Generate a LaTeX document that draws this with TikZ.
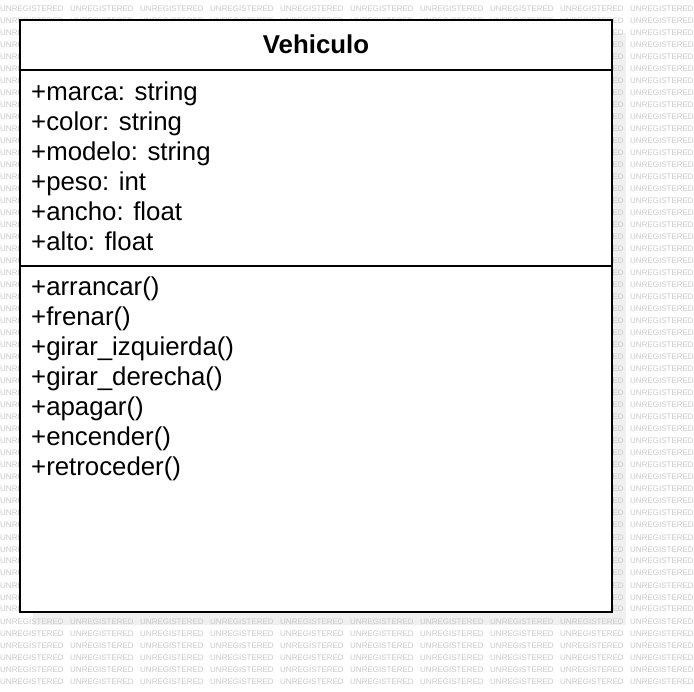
\documentclass[tikz,border=0pt]{standalone}
\usepackage{fontspec}
\setmainfont{Liberation Sans}
\newif\ifwmhidden
\newif\ifwmcut
\begin{document}
\begin{tikzpicture}[x=1pt,y=-1pt,
  wm/.style={anchor=base west,inner sep=0pt,text=black!21,font=\fontsize{8}{8}\selectfont},
  member/.style={anchor=base west,inner sep=0pt,font=\fontsize{25.8}{25.8}\selectfont},
  title/.style={anchor=base,inner sep=0pt,font=\fontsize{25.8}{25.8}\selectfont\bfseries},
  frame/.style={draw=black,line width=2pt,fill=white}]
\useasboundingbox[fill=white] (0,0) rectangle (694,692);
% shadow
\fill[black!6] (33,33) rectangle (626,625);
% watermark (parts hidden behind the box are left out)
\foreach \r in {0,...,56}{
  \foreach \c in {0,...,9}{
    \wmhiddenfalse\wmcutfalse
    \ifnum\c>0 \ifnum\c<8 \ifnum\r>1 \ifnum\r<50 \wmhiddentrue\fi\fi\fi\fi
    \ifnum\c=0 \ifnum\r>1 \ifnum\r<50 \wmcuttrue\fi\fi\fi
    \ifwmhidden\else
      \ifwmcut
        \node[wm] (w-\r-\c) at (0,12+12*\r) {UNRE};
      \else
        \node[wm] (w-\r-\c) at (70*\c,12+12*\r) {UNREGISTERED};
      \fi
    \fi
  }
}
% class box
\draw[frame] (20,20) rectangle (612,612);
\draw[line width=2pt] (20,70) -- (612,70);
\draw[line width=2pt] (20,266) -- (612,266);
\node[title] (cls) at (316,54) {Vehiculo};
\node[member] (a1) at (31,101) {+marca: string};
\node[member] (a2) at (31,131) {+color: string};
\node[member] (a3) at (31,161) {+modelo: string};
\node[member] (a4) at (31,191) {+peso: int};
\node[member] (a5) at (31,221) {+ancho: float};
\node[member] (a6) at (31,251) {+alto: float};
\node[member] (m1) at (31,296) {+arrancar()};
\node[member] (m2) at (31,326) {+frenar()};
\node[member] (m3) at (31,356) {+girar\_izquierda()};
\node[member] (m4) at (31,386) {+girar\_derecha()};
\node[member] (m5) at (31,416) {+apagar()};
\node[member] (m6) at (31,446) {+encender()};
\node[member] (m7) at (31,476) {+retroceder()};
\end{tikzpicture}
\end{document}
